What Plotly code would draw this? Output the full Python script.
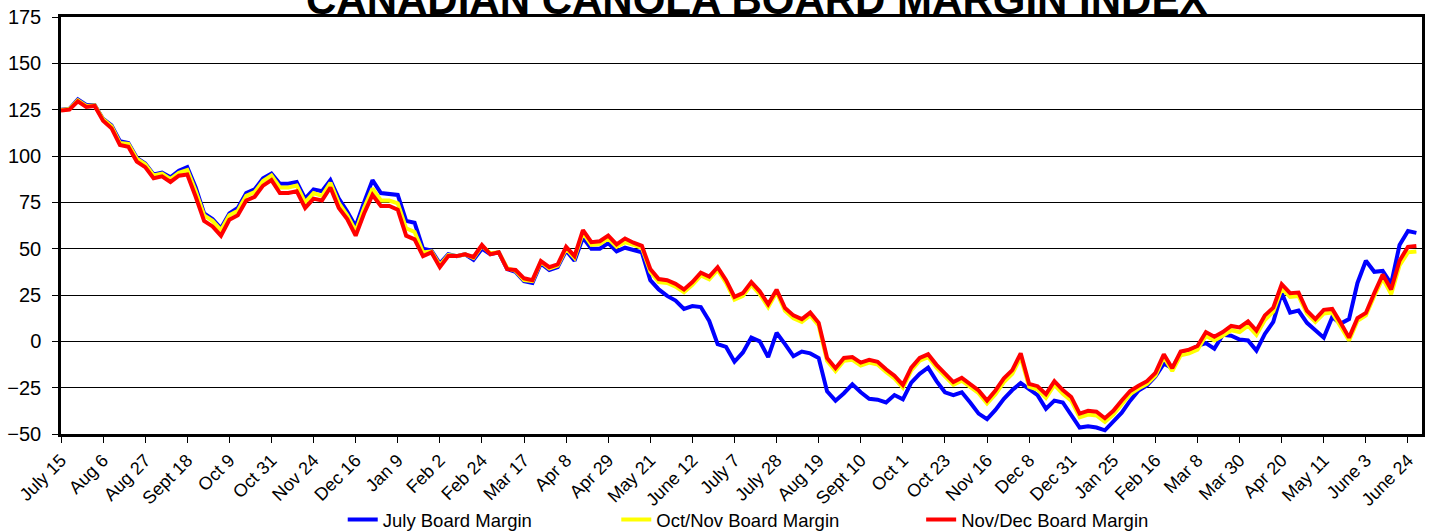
import plotly.graph_objects as go

# Tick labels (every 15 trading days)
tick_labels = ["July 15", "Aug 6", "Aug 27", "Sept 18", "Oct 9", "Oct 31", "Nov 24", "Dec 16",
               "Jan 9", "Feb 2", "Feb 24", "Mar 17", "Apr 8", "Apr 29", "May 21", "June 12",
               "July 7", "July 28", "Aug 19", "Sept 10", "Oct 1", "Oct 23", "Nov 16", "Dec 8",
               "Dec 31", "Jan 25", "Feb 16", "Mar 8", "Mar 30", "Apr 20", "May 11", "June 3", "June 24"]
tick_days = [15 * j for j in range(len(tick_labels))]

# Series values sampled every 3 trading days
july_margin = [125, 125.5, 130.5, 127.5, 127.5, 120, 116.5, 108, 107, 99,
               96, 90, 91, 88.5, 92, 94, 83, 69, 66, 61,
               69, 72, 80, 82, 88, 90.5, 85, 85, 86, 77,
               82, 81, 87, 77, 70, 62, 75, 87, 80, 79.5,
               79, 65, 64, 50, 49, 42, 47, 46, 47, 44,
               50, 47, 48, 39, 37.5, 32.5, 31.5, 42, 38.5, 40,
               49, 43.5, 56, 50, 50, 53, 48.5, 50.5, 49.5, 48,
               33, 28, 24.5, 22, 17.5, 19, 18.5, 11, -1.5, -3,
               -11, -6, 2, 0, -8.5, 4.6, -1.5, -8, -5.5, -6.5,
               -9, -27, -32, -28, -23.2, -27.5, -31, -31.5, -33, -29,
               -31.3, -22.3, -17.5, -14.2, -21.5, -27.5, -29, -27.5, -33, -39,
               -42, -37, -31, -26.3, -22.5, -25.5, -29, -36.4, -32, -33,
               -40, -46.5, -45.8, -46.5, -48, -43.5, -38.5, -32, -26.5, -23.8,
               -19, -12, -14.5, -6.5, -5, -2.5, -1, -4, 3.5, 3,
               1, 0.5, -5, 4, 10.5, 26, 15.5, 16.6, 10, 6,
               2, 13, 9.6, 12, 31.5, 43.5, 37.5, 38, 31, 52,
               59.5, 58.5]

octnov_margin = [124.8, 125.3, 130, 127, 127.3, 119.8, 116, 107, 106.5, 98.5,
                 95.5, 89.5, 90.5, 87.5, 91, 92.5, 81, 68, 65, 60,
                 68, 70.5, 78.5, 80.5, 86.5, 89.5, 83, 83, 84, 75,
                 80, 78.5, 85.5, 74.5, 68, 59.5, 72, 82.5, 76, 76,
                 74.5, 61, 59, 48, 48.5, 41, 46.5, 46, 47, 45,
                 51.5, 47.5, 48, 39.5, 38, 33, 32.5, 42.8, 39.3, 40.8,
                 50, 45, 58.5, 52, 52.5, 55.5, 51, 53.5, 52, 50.5,
                 37.5, 32, 31.5, 29.5, 26.5, 30.5, 35.5, 33.5, 38.5, 31.5,
                 22.5, 24.5, 30.5, 25.5, 18.5, 26.5, 16.5, 12.5, 10.5, 14,
                 8.5, -10.5, -16, -10.5, -10, -13, -11.5, -12.5, -16.5, -20,
                 -25, -15.7, -10.5, -8.5, -14.2, -18.5, -23.5, -21.2, -24.3, -28,
                 -33.5, -28.5, -22, -17.5, -8.5, -24.5, -26, -30.5, -23.5, -28.3,
                 -32, -41, -39.5, -40, -43.5, -39.5, -33.9, -28.5, -25.5, -23,
                 -18.5, -8.5, -16, -7.5, -6.5, -4.5, 3, 0.5, 3, 6,
                 5, 8.5, 3.5, 11.5, 16, 28.5, 24, 24.5, 15, 10.5,
                 15, 15.5, 8, 0.5, 11, 14, 24.5, 34, 25.5, 41,
                 48, 48.5]

novdec_margin = [124.6, 125, 129.5, 126.5, 127, 119, 115, 106, 105, 97,
                 94, 88, 89, 86, 89.4, 90, 78, 65, 62, 57,
                 65.6, 68, 76, 78, 84, 87, 80, 80, 81, 72,
                 77, 76, 83, 72, 66, 57, 69, 79, 73, 73,
                 71, 57, 55, 46, 48, 40, 46, 46, 47, 45.5,
                 52, 47, 48, 39, 38.5, 34, 33, 43.3, 40, 41.5,
                 51, 46, 60, 53.5, 54, 57, 52.3, 55.5, 53.2, 51.5,
                 39, 33.6, 33, 31, 28, 32, 37, 35, 40, 33,
                 24, 26, 32, 27, 20, 27.9, 18, 14, 12, 15.5,
                 10, -9, -14.5, -9, -8.5, -11.5, -10, -11, -15.1, -18.5,
                 -23.5, -14.2, -9, -7, -12.7, -17, -22, -19.7, -22.8, -26.5,
                 -32, -26.5, -20, -15.5, -6.5, -23, -24.2, -28.5, -21.5, -26.3,
                 -30, -39, -37.5, -38, -41.5, -37.5, -31.9, -26.8, -24, -21.5,
                 -17, -7, -14.5, -5.5, -4.5, -2.5, 5, 2.5, 5, 8.3,
                 7.5, 10.8, 5.8, 14, 18.2, 30.8, 26, 26.3, 16.5, 12,
                 17, 17.5, 10, 2, 12.5, 15.3, 26, 36, 28, 43.5,
                 51, 51.5]

sample_step = 3
trading_day = [sample_step * k for k in range(len(novdec_margin))]

series = [
    ("July Board Margin", july_margin, "#0000FF", "legend", 0.207),
    ("Oct/Nov Board Margin", octnov_margin, "#FFFF00", "legend2", 0.408),
    ("Nov/Dec Board Margin", novdec_margin, "#FF0000", "legend3", 0.632),
]

font_family = "Liberation Sans, Arial, sans-serif"

fig = go.Figure()
for name, vals, color, leg, _ in series:
    fig.add_trace(go.Scatter(x=trading_day, y=vals, mode="lines", name=name,
                             line=dict(color=color, width=4), legend=leg))

legend_common = dict(orientation="h", yanchor="middle", y=-0.206, xanchor="left",
                     font=dict(family=font_family, size=18.5, color="black"),
                     bgcolor="rgba(0,0,0,0)")
layout_legends = {}
for name, vals, color, leg, xpos in series:
    layout_legends[leg] = dict(legend_common, x=xpos)

fig.update_layout(
    width=1429, height=531,
    margin=dict(l=61, r=7, t=17, b=97, autoexpand=False),
    paper_bgcolor="white", plot_bgcolor="white",
    font=dict(family=font_family, color="black"),
    showlegend=True,
    **layout_legends,
)

fig.update_xaxes(
    range=[0, 485], tickmode="array", tickvals=tick_days, ticktext=tick_labels,
    tickangle=-45, ticks="outside", ticklen=6, tickcolor="black",
    tickfont=dict(family=font_family, size=18, color="black"),
    showgrid=False, zeroline=False,
    showline=True, linecolor="black", linewidth=2.5, mirror=True,
)
fig.update_yaxes(
    range=[-50, 175], tickmode="linear", tick0=-50, dtick=25,
    ticks="outside", ticklen=6, tickcolor="black",
    tickfont=dict(family=font_family, size=20, color="black"),
    showgrid=True, gridcolor="black", gridwidth=1, zeroline=False,
    showline=True, linecolor="black", linewidth=2.5, mirror=True,
    ticklabelstandoff=7,
)

fig.add_annotation(
    text="<b>CANADIAN CANOLA BOARD MARGIN INDEX</b>",
    xref="paper", yref="paper", x=0.511, y=0.981, xanchor="center", yanchor="bottom",
    showarrow=False, font=dict(family=font_family, size=42, color="black"),
)

fig.write_html("out.html",
               config={"displayModeBar": False},
               post_script="document.body.style.margin='0px';document.body.style.overflow='hidden';")
